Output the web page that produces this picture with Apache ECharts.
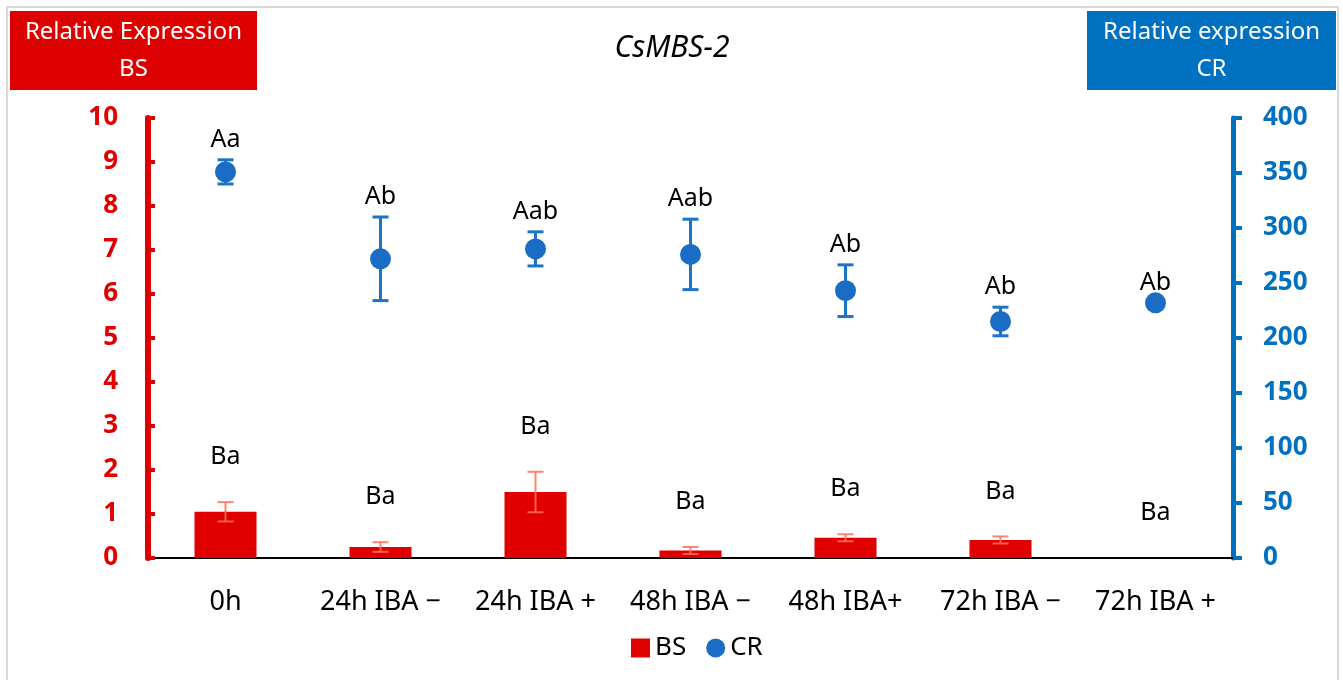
<!DOCTYPE html>
<html>
<head>
<meta charset="utf-8">
<script src="https://cdn.jsdelivr.net/npm/echarts@6/dist/echarts.min.js"></script>
<style>html,body{margin:0;padding:0;background:#fff;}#c{width:1343px;height:680px;}</style>
</head>
<body>
<div id="c"></div>
<script>
const categories = ['0h', '24h IBA \u2212', '24h IBA +', '48h IBA \u2212', '48h IBA+', '72h IBA \u2212', '72h IBA +'];
const bsMean = [1.05, 0.25, 1.50, 0.17, 0.46, 0.41, 0];
const bsErr = [0.22, 0.11, 0.46, 0.08, 0.08, 0.08, 0];
const bsLetters = ['Ba', 'Ba', 'Ba', 'Ba', 'Ba', 'Ba', 'Ba'];
const crMean = [351, 272, 281, 276, 243, 215, 232];
const crErr = [11, 38, 15.5, 32, 23.5, 13, 0];
const crLetters = ['Aa', 'Ab', 'Aab', 'Aab', 'Ab', 'Ab', 'Ab'];
const leftTicks = [0, 10, 1];
const rightTicks = [0, 400, 50];

const FONT = "'Noto Sans', 'Open Sans', sans-serif";
const RED = '#E00000';
const BLUE = '#0070C0';

function errRender(letters, color, lw, capHalf, offset) {
  return function (params, api) {
    const i = api.value(0), m = api.value(1), e = api.value(2);
    const top = api.coord([i, m + e]);
    const bot = api.coord([i, m - e]);
    const st = { stroke: color, lineWidth: lw };
    const ch = [];
    if (e > 0) {
      ch.push({ type: 'line', shape: { x1: top[0], y1: top[1], x2: bot[0], y2: bot[1] }, style: st });
      ch.push({ type: 'line', shape: { x1: top[0] - capHalf, y1: top[1], x2: top[0] + capHalf, y2: top[1] }, style: st });
      ch.push({ type: 'line', shape: { x1: bot[0] - capHalf, y1: bot[1], x2: bot[0] + capHalf, y2: bot[1] }, style: st });
    }
    ch.push({ type: 'text', style: { text: letters[i], x: top[0], y: top[1] - offset, align: 'center', verticalAlign: 'middle', font: '25px ' + FONT, fill: '#000' } });
    return { type: 'group', children: ch };
  };
}

const chart = echarts.init(document.getElementById('c'), null, { renderer: 'canvas' });
chart.setOption({
  animation: false,
  backgroundColor: '#fff',
  grid: { left: 148, right: 110, top: 118, bottom: 122 },
  legend: {
    bottom: 14, left: 626,
    itemWidth: 19, itemHeight: 19, itemGap: 20,
    textStyle: { fontFamily: FONT, fontSize: 26, color: '#000' },
    data: [{ name: 'BS', icon: 'rect' }, { name: 'CR', icon: 'circle' }]
  },
  xAxis: {
    type: 'category', data: categories,
    axisLine: { lineStyle: { color: '#000', width: 2 } },
    axisTick: { show: false },
    axisLabel: { interval: 0, hideOverlap: false, fontFamily: FONT, fontSize: 27, color: '#000', margin: 31 }
  },
  yAxis: [
    {
      type: 'value', min: leftTicks[0], max: leftTicks[1], interval: leftTicks[2], position: 'left',
      splitLine: { show: false },
      axisLine: { show: true, lineStyle: { color: RED, width: 6 } },
      axisTick: { show: true, inside: true, length: 7, lineStyle: { color: RED, width: 4 } },
      axisLabel: { fontFamily: FONT, fontSize: 26, fontWeight: 'bold', color: RED, margin: 30 }
    },
    {
      type: 'value', min: rightTicks[0], max: rightTicks[1], interval: rightTicks[2], position: 'right',
      splitLine: { show: false },
      axisLine: { show: true, lineStyle: { color: BLUE, width: 5 } },
      axisTick: { show: true, inside: false, length: 9, lineStyle: { color: BLUE, width: 4 } },
      axisLabel: { fontFamily: FONT, fontSize: 26, fontWeight: 'bold', color: BLUE, margin: 30 }
    }
  ],
  series: [
    {
      name: 'BS', type: 'bar', yAxisIndex: 0, data: bsMean, barWidth: '40%',
      itemStyle: { color: RED }
    },
    {
      name: 'BS err', type: 'custom', yAxisIndex: 0, z: 5,
      renderItem: errRender(bsLetters, 'rgba(255,110,90,0.85)', 2, 8, 45),
      encode: { x: 0, y: [1, 2] },
      data: categories.map((c, i) => [i, bsMean[i], bsErr[i]]),
      clip: false
    },
    {
      name: 'CR', type: 'scatter', yAxisIndex: 1, data: crMean, symbol: 'circle', symbolSize: 21,
      itemStyle: { color: '#1A6CC4', opacity: 1 }, z: 6
    },
    {
      name: 'CR err', type: 'custom', yAxisIndex: 1, z: 5,
      renderItem: errRender(crLetters, '#1A74C8', 3, 8, 20),
      encode: { x: 0, y: [1, 2] },
      data: categories.map((c, i) => [i, crMean[i], crErr[i]]),
      clip: false
    }
  ],
  graphic: [
    { type: 'rect', shape: { x: 7, y: 7, width: 1331, height: 690 }, style: { fill: 'none', stroke: '#D9D9D9', lineWidth: 2 }, z: 0, silent: true },
    { type: 'rect', shape: { x: 10, y: 11, width: 247, height: 79 }, style: { fill: '#DD0000' }, z: 10 },
    { type: 'text', x: 133.5, y: 51, style: { text: 'Relative Expression\nBS', align: 'center', verticalAlign: 'middle', font: '24px ' + FONT, fill: '#fff', lineHeight: 37 }, z: 11 },
    { type: 'rect', shape: { x: 1087, y: 11, width: 249, height: 79 }, style: { fill: BLUE }, z: 10 },
    { type: 'text', x: 1211.5, y: 51, style: { text: 'Relative expression\nCR', align: 'center', verticalAlign: 'middle', font: '24px ' + FONT, fill: '#fff', lineHeight: 37 }, z: 11 },
    { type: 'text', x: 672, y: 48, style: { text: 'CsMBS-2', align: 'center', verticalAlign: 'middle', font: 'italic 30px ' + FONT, fill: '#000' }, z: 11 }
  ]
});
</script>
</body>
</html>
